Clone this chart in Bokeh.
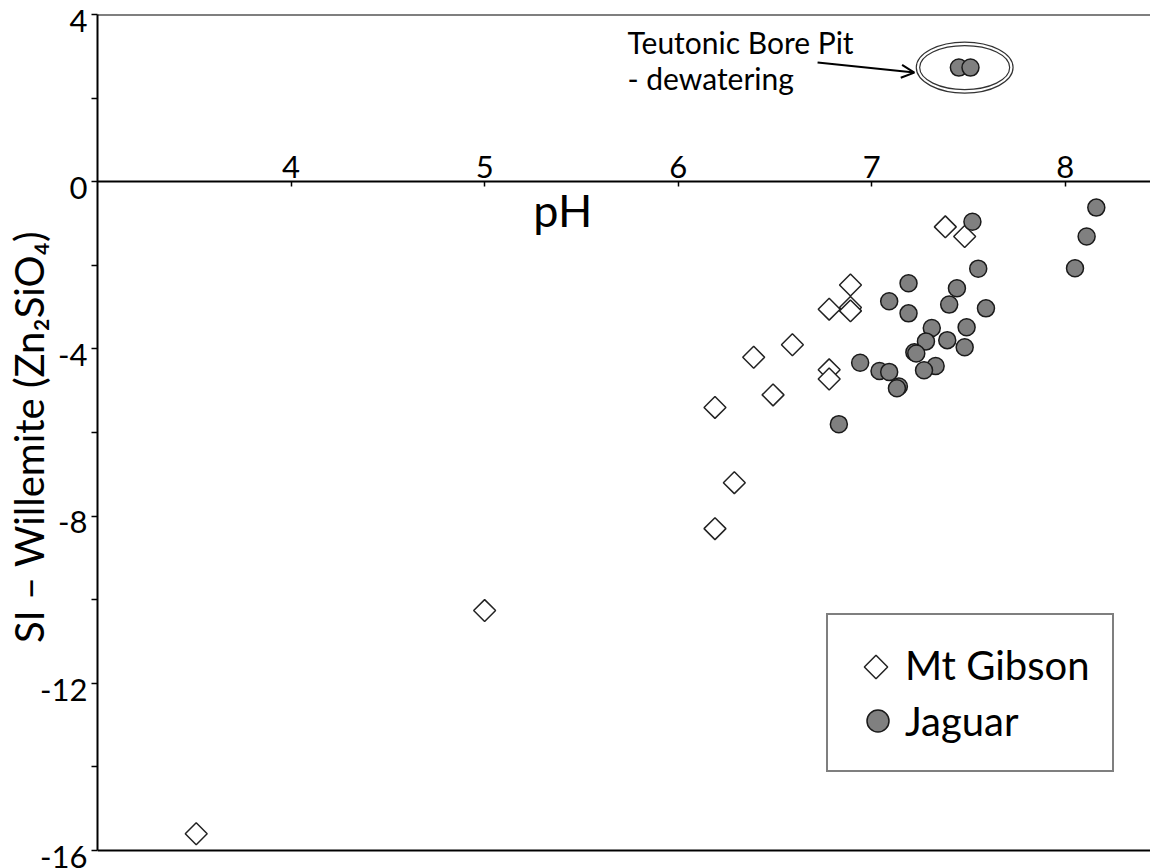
import math
from bokeh.plotting import figure
from bokeh.models import (Range1d, LinearAxis, FixedTicker, Span, Label, Arrow,
                          OpenHead, Legend, LegendItem, ColumnDataSource)
from bokeh.embed import file_html
from bokeh.resources import INLINE

# ---------------- data ----------------
gibson_ph = [3.51, 5.00, 6.19, 6.29, 6.19, 6.49, 6.39, 6.59, 6.78, 6.78, 6.78,
             6.89, 6.89, 6.89, 7.38, 7.48]
gibson_si = [-15.6, -10.26, -8.3, -7.2, -5.4, -5.1, -4.2, -3.9, -4.5, -4.72, -3.05,
             -2.47, -3.01, -3.09, -1.08, -1.31]

jaguar_ph = [7.52, 8.16, 8.11, 8.05, 7.55, 7.19, 7.44, 7.09, 7.40, 7.59, 7.19,
             7.31, 7.49, 7.28, 7.39, 7.48, 7.22, 7.23, 6.94, 7.04, 7.09, 7.33,
             7.27, 7.14, 7.13, 6.83]
jaguar_si = [-0.96, -0.62, -1.31, -2.07, -2.08, -2.43, -2.55, -2.86, -2.94, -3.03, -3.15,
             -3.5, -3.48, -3.82, -3.79, -3.96, -4.08, -4.11, -4.33, -4.53, -4.55, -4.41,
             -4.51, -4.9, -4.94, -5.8]

# Teutonic Bore Pit dewatering samples (Jaguar)
teutonic_ph = [7.45, 7.51]
teutonic_si = [2.73, 2.73]

x_ticks = [4, 5, 6, 7, 8]
y_ticks = [-16, -12, -8, -4, 0, 4]
y_minor = [-14, -10, -6, -2, 2]
y_tick_text = {t: str(t) for t in y_ticks}   # plain hyphen minus like the original

FONT = "Lato"
X_MIN, X_MAX = 3, 8.44
Y_MIN, Y_MAX = -16, 4
PAD = 0.215          # small extra room below -16 so the last tick label fits

W, H = 1150, 868
BL, BR, BT, BB = 97, 0, 14, 9

p = figure(width=W, height=H,
           x_range=Range1d(X_MIN, X_MAX), y_range=Range1d(Y_MIN - PAD, Y_MAX),
           x_axis_location=None, toolbar_location=None, output_backend="svg",
           min_border_left=BL, min_border_right=BR, min_border_top=BT, min_border_bottom=BB)
p.outline_line_color = None
p.grid.grid_line_color = None
p.background_fill_color = "white"
p.border_fill_color = "white"

# y axis: line and ticks
ya = p.yaxis[0]
ya.bounds = (Y_MIN, Y_MAX)
ya.ticker = FixedTicker(ticks=y_ticks, minor_ticks=y_minor)
ya.axis_line_width = 2
ya.axis_line_color = "black"
ya.major_tick_out = 6
ya.major_tick_in = 0
ya.minor_tick_out = 6
ya.minor_tick_in = 0
ya.major_tick_line_width = 1.5
ya.minor_tick_line_width = 1.5
ya.major_label_overrides = {t: "" for t in y_ticks}
ya.major_label_standoff = 0

# y tick labels, drawn slightly below their ticks like the original
shift = 0.15
p.extra_y_ranges = {"lab": Range1d(Y_MIN - PAD + shift, Y_MAX + shift)}
yl = LinearAxis(y_range_name="lab", ticker=FixedTicker(ticks=y_ticks, minor_ticks=[]))
yl.axis_line_color = None
yl.major_tick_line_color = None
yl.minor_tick_line_color = None
yl.major_tick_out = 0
yl.major_tick_in = 0
yl.major_label_standoff = 4
yl.major_label_overrides = y_tick_text
yl.major_label_text_font = FONT
yl.major_label_text_font_size = "31px"
yl.major_label_text_color = "black"
yl.axis_label = "SI \u2013 Willemite (Zn\u2082SiO\u2084)"
yl.axis_label_text_font = FONT
yl.axis_label_text_font_size = "40px"
yl.axis_label_text_font_style = "normal"
yl.axis_label_text_color = "black"
yl.axis_label_standoff = -16
p.add_layout(yl, "left")

# x axis crossing at y = 0
xa = LinearAxis(fixed_location=0, ticker=FixedTicker(ticks=x_ticks, minor_ticks=[]))
xa.axis_line_width = 2
xa.axis_line_color = "black"
xa.major_tick_in = 5
xa.major_tick_out = 0
xa.major_tick_line_width = 1.5
xa.minor_tick_line_color = None
xa.major_label_standoff = 4
xa.major_label_text_font = FONT
xa.major_label_text_font_size = "31px"
xa.major_label_text_color = "black"
p.add_layout(xa, "above")

# top and bottom frame lines
p.add_layout(Span(location=Y_MAX, dimension="width", line_color="black", line_width=2))
p.add_layout(Span(location=Y_MIN, dimension="width", line_color="black", line_width=2))

# data
DIAMOND = dict(marker="square", angle=math.pi / 4, fill_color="white",
               line_color="#222222", line_width=1.5)
r_gib = p.scatter(gibson_ph, gibson_si, size=15.5, **DIAMOND)
jag_src = ColumnDataSource(dict(x=jaguar_ph + teutonic_ph, y=jaguar_si + teutonic_si))
r_jag = p.scatter("x", "y", source=jag_src, marker="circle", size=17,
                  fill_color="#808080", line_color="#1a1a1a", line_width=1.5)

# Teutonic annotation
cx = sum(teutonic_ph) / len(teutonic_ph)
cy = sum(teutonic_si) / len(teutonic_si)
p.ellipse(x=[cx, cx], y=[cy, cy], width=[0.50, 0.465], height=[1.22, 1.05],
          fill_color=None, line_color="#333333", line_width=1.2)
p.add_layout(Arrow(x_start=6.72, y_start=2.85, x_end=7.22, y_end=2.61,
                   line_width=2, line_color="black",
                   end=OpenHead(size=13, line_width=2, line_color="black")))
p.add_layout(Label(x=5.738, y=3.35, text="Teutonic Bore Pit", text_font=FONT,
                   text_font_size="30px", text_baseline="alphabetic", text_color="black"))
p.add_layout(Label(x=5.738, y=2.48, text="- dewatering", text_font=FONT,
                   text_font_size="30px", text_baseline="alphabetic", text_color="black"))

# x axis title
p.add_layout(Label(x=5.404, y=-0.67, text="pH", text_font=FONT, text_font_size="45px",
                   text_align="center", text_baseline="alphabetic", text_color="black"))

# legend
LEG_X, LEG_Y = 729, 87
LEG_PAD, GLYPH = 22, 55
gib_key = p.scatter([float("nan")], [float("nan")], marker="square", size=10,
                    fill_alpha=0, line_alpha=0)
legend = Legend(items=[LegendItem(label="Mt Gibson", renderers=[gib_key]),
                       LegendItem(label="Jaguar", renderers=[r_jag])],
                location=(LEG_X, LEG_Y))
legend.glyph_width = GLYPH
legend.glyph_height = GLYPH
legend.label_height = GLYPH
legend.spacing = 1
legend.padding = LEG_PAD
legend.margin = 0
legend.label_standoff = 0
legend.label_text_font = FONT
legend.label_text_font_size = "40px"
legend.label_text_color = "black"
legend.border_line_color = "black"
legend.border_line_width = 2
legend.background_fill_alpha = 0     # no data lies under the legend; lets the key show
p.add_layout(legend)

# rotated-square key for the Mt Gibson legend entry (legend swatches cannot be rotated)
frame_w = W - BL - BR
frame_h = H - BT - BB
leg_h = 2 * LEG_PAD + 2 * GLYPH + 1
key_sx = LEG_X + LEG_PAD + GLYPH / 2                         # from frame left
key_sy = frame_h - LEG_Y - leg_h + LEG_PAD + GLYPH / 2       # from frame top
key_x = X_MIN + key_sx * (X_MAX - X_MIN) / frame_w
key_y = Y_MAX - key_sy * (Y_MAX - (Y_MIN - PAD)) / frame_h
p.scatter([key_x], [key_y], size=16.5, **DIAMOND)

open("out.html", "w").write(file_html(p, INLINE))
